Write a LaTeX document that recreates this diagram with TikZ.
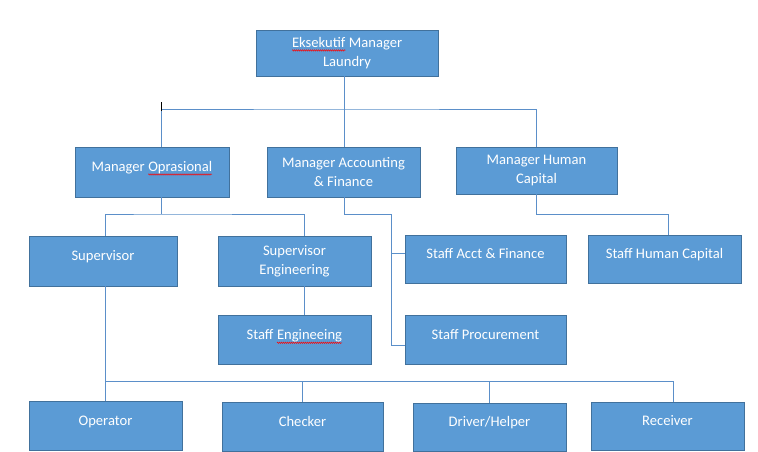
\documentclass[tikz,border=0pt]{standalone}
\usepackage{fontspec}
\setmainfont{Carlito}
\usepackage{tikz}
\usetikzlibrary{positioning, decorations.pathmorphing}

\definecolor{boxfill}{HTML}{5B9BD5}
\definecolor{boxline}{HTML}{41719C}
\definecolor{linkcol}{HTML}{5B8FC9}

% red spell-check wave under a word
\newcommand{\typo}[1]{\tikz[baseline=(w.base)]{%
  \node[inner sep=0pt, outer sep=0pt, draw=none, fill=none, minimum width=0pt, minimum height=0pt, text height={}, text depth={}] (w) {#1};%
  \draw[red, line width=0.45pt, decorate, decoration={snake, amplitude=0.75pt, segment length=2pt}] ([yshift=-3pt]w.base west) -- ([yshift=-3pt]w.base east);}}

\begin{document}
\begin{tikzpicture}[
    x=1pt, y=-1pt,
    box/.style 2 args={
        rectangle,
        draw=boxline,
        fill=boxfill,
        line width=0.8pt,
        minimum width=#1pt,
        minimum height=#2pt,
        inner sep=2pt,
        align=center,
        text=white,
        font=\fontsize{14.6}{19}\selectfont
    },
    one/.style={text height=10pt, text depth=11pt},
    link/.style={draw=linkcol, line width=0.9pt}
]
\fill[white] (0,0) rectangle (758,452);

% Nodes
\node[box={182}{46}] (top) at (347,53) {\typo{Eksekutif} Manager\\Laundry};

\node[box={154}{50}, one] (mo) at (152,172) {Manager \typo{Oprasional}};
\node[box={153}{50}] (maf) at (343.5,172) {Manager Accounting\\\& Finance};
\node[box={161}{47}] (mhc) at (536.5,170.5) {Manager Human\\Capital};

\node[box={148}{50}, one] (sup) at (103,261) {Supervisor};
\node[box={153}{50}] (seng) at (294.5,261) {Supervisor\\Engineering};
\node[box={153}{49}, one, below=29pt of seng] (steng) {Staff \typo{Engineeing}};
\node[box={161}{48}, one] (sacct) at (485.5,259) {Staff Acct \& Finance};
\node[box={161}{49}, one, below=32pt of sacct] (sproc) {Staff Procurement};
\node[box={153}{48}, one] (shc) at (664.5,259) {Staff Human Capital};

\node[box={153}{49}, one] (op) at (105.5,425.5) {Operator};
\node[box={161}{49}, one] (chk) at (302.5,426.5) {Checker};
\node[box={153}{48}, one] (drv) at (489.5,427) {Driver/Helper};
\node[box={153}{48}, one] (rcv) at (667.5,426) {Receiver};

% Bus points
\coordinate (bus1) at (344,109);
\coordinate (bus2) at (161,214);
\coordinate (bus3) at (391,214);
\coordinate (bus4) at (105,381);
\coordinate (bus5) at (668,214);

% Lines
\draw[link] (top.south -| bus1) -- (maf.north -| bus1);
\draw[link] (bus2 |- mo.north) |- (bus1) -| (mhc.north);
\draw[black, line width=0.9pt] (bus2 |- bus1) ++(0,2) -- ++(0,-9);

\draw[link] (bus2 |- mo.south) -- (bus2);
\draw[link] ([xshift=2pt]sup.north) |- (bus2) -| ([xshift=9.5pt]seng.north);
\draw[link] ([xshift=9.5pt]seng.south) -- ([xshift=9.5pt]steng.north);

\draw[link] (maf.south -| bus1) |- (bus3) |- ([yshift=-5.5pt]sproc.west);
\draw[link] ([yshift=6pt]sacct.west) -| (bus3);

\draw[link] (mhc.south) |- (bus5) -- (bus5 |- shc.north);

\draw[link] (bus4 |- sup.south) -- (bus4 |- op.north);
\draw[link] (bus4) -| ([xshift=5.5pt]rcv.north);
\foreach \n in {chk, drv}
    \draw[link] (\n.north) -- (\n.north |- bus4);
\end{tikzpicture}
\end{document}
